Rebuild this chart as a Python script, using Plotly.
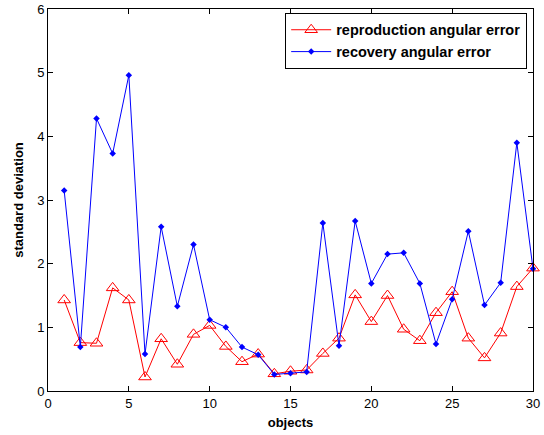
import plotly.graph_objects as go

objects = list(range(1, 31))
reproduction = [1.43, 0.76, 0.75, 1.62, 1.43, 0.22, 0.82, 0.42, 0.89, 1.03,
                0.70, 0.46, 0.58, 0.27, 0.31, 0.33, 0.59, 0.83, 1.51, 1.09,
                1.50, 0.97, 0.79, 1.23, 1.56, 0.83, 0.52, 0.91, 1.64, 1.93]
recovery = [3.15, 0.69, 4.28, 3.73, 4.96, 0.58, 2.58, 1.33, 2.30, 1.12,
            1.00, 0.69, 0.57, 0.26, 0.28, 0.30, 2.64, 0.71, 2.67, 1.69,
            2.15, 2.17, 1.69, 0.74, 1.44, 2.51, 1.35, 1.70, 3.90, 1.92]
x_ticks = [0, 5, 10, 15, 20, 25, 30]
y_ticks = [0, 1, 2, 3, 4, 5, 6]

FONT = "Liberation Sans, Arial"

fig = go.Figure()
fig.add_trace(go.Scatter(
    x=objects, y=reproduction, mode="lines+markers",
    name="<b>reproduction angular error</b>",
    line=dict(color="#ff0000", width=1),
    marker=dict(symbol="triangle-up-open", size=11, color="#ff0000", line=dict(width=1)),
    cliponaxis=False,
))
fig.add_trace(go.Scatter(
    x=objects, y=recovery, mode="lines+markers",
    name="<b>recovery angular error</b>",
    line=dict(color="#0000ff", width=1),
    marker=dict(symbol="diamond", size=5, color="#0000ff"),
    cliponaxis=False,
))

axis_common = dict(
    showgrid=False, zeroline=False, ticks="inside", ticklen=5,
    mirror="ticks", showline=True, linecolor="black", linewidth=1,
    tickcolor="black", tickfont=dict(family=FONT, size=13, color="black"),
    automargin=False,
)
fig.update_xaxes(range=[0, 30], tickvals=x_ticks,
                 title=dict(text="<b>objects</b>", font=dict(family=FONT, size=13, color="black"), standoff=8),
                 **axis_common)
fig.update_yaxes(range=[0, 6], tickvals=y_ticks,
                 title=dict(text="<b>standard deviation</b>", font=dict(family=FONT, size=13, color="black"), standoff=10),
                 **axis_common)

fig.update_layout(
    width=544, height=435,
    margin=dict(l=48, r=11, t=9, b=44),
    plot_bgcolor="white", paper_bgcolor="white",
    legend=dict(
        x=0.988, y=0.99, xanchor="right", yanchor="top",
        bgcolor="white", bordercolor="black", borderwidth=1,
        font=dict(family=FONT, size=14.5, color="black"),
        tracegroupgap=0, itemwidth=40,
    ),
    font=dict(family=FONT),
)

fig.write_html("out.html", config={"displayModeBar": False})

with open("out.html", "r", encoding="utf-8") as f:
    html = f.read()
html = html.replace("<head>", "<head><style>html,body{margin:0;padding:0;overflow:hidden;}</style>", 1)
with open("out.html", "w", encoding="utf-8") as f:
    f.write(html)
